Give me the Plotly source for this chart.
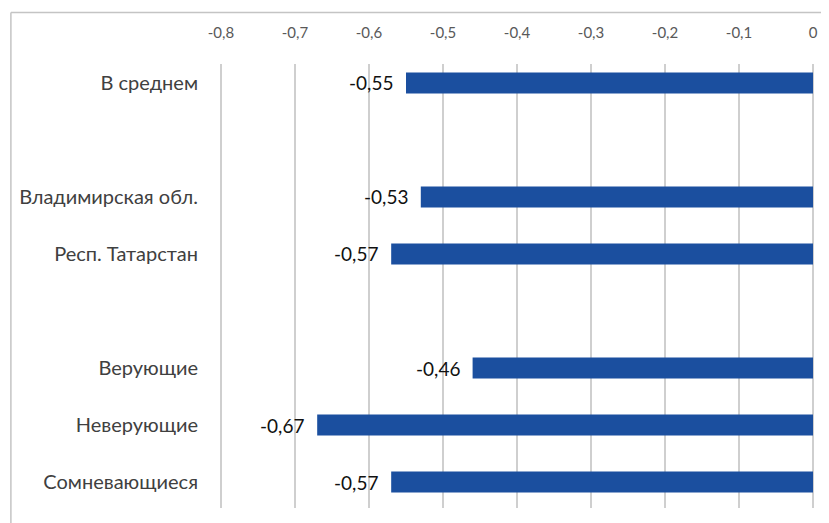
import plotly.graph_objects as go

categories = ["В среднем", "", "Владимирская обл.", "Респ. Татарстан", "",
              "Верующие", "Неверующие", "Сомневающиеся"]
values = [-0.55, None, -0.53, -0.57, None, -0.46, -0.67, -0.57]
tick_vals = [-0.8, -0.7, -0.6, -0.5, -0.4, -0.3, -0.2, -0.1, 0]
tick_labels = ["-0,8", "-0,7", "-0,6", "-0,5", "-0,4", "-0,3", "-0,2", "-0,1", "0"]

positions = list(range(len(categories)))
bar_color = "#1b4f9f"
FONT = "Lato"

# page has an 8px body margin; figure coordinates = page coordinates - 8
OFF = 8
W, H = 829 - OFF, 523 - OFF
K = 745.0          # pixels per unit on x
PAD = 2            # px padding so edge gridlines are drawn
L, R, T, B = 220 - PAD - OFF, 11, 64 - OFF, 15
pw, ph = W - L - R, H - T - B
x_left = -0.8 - PAD / K
x_range = [x_left, x_left + pw / K]

fig = go.Figure()
fig.add_trace(go.Bar(
    x=values, y=positions, orientation="h",
    marker=dict(color=bar_color, line=dict(width=0)),
    width=0.37, hoverinfo="skip",
))

annotations = []
for v, p in zip(values, positions):
    if v is None:
        continue
    annotations.append(dict(
        x=v, y=p, xref="x", yref="y", text=f"{v:.2f}".replace(".", ","),
        showarrow=False, xanchor="right", yanchor="middle", xshift=-11,
        font=dict(family=FONT, size=19, color="#111111"),
    ))


def px_x(px):
    return (px - OFF - L) / pw


def px_y(py):
    return (H - B - (py - OFF)) / ph


frame_color = "#c4c4c4"
shapes = [
    dict(type="line", xref="paper", yref="paper",
         x0=px_x(8.5), x1=px_x(829), y0=px_y(12.5), y1=px_y(12.5),
         line=dict(color=frame_color, width=1.5)),
    dict(type="line", xref="paper", yref="paper",
         x0=px_x(8.5), x1=px_x(8.5), y0=px_y(12.5), y1=px_y(523),
         line=dict(color=frame_color, width=1.5)),
]

fig.update_layout(
    width=W, height=H,
    margin=dict(l=L, r=R, t=T, b=B),
    paper_bgcolor="white", plot_bgcolor="white",
    showlegend=False,
    annotations=annotations,
    shapes=shapes,
    font=dict(family=FONT),
    xaxis=dict(
        range=x_range, side="top",
        tickvals=tick_vals, ticktext=tick_labels,
        tickfont=dict(family=FONT, size=15, color="#595959"),
        showgrid=True, gridcolor="#cfcfcf", gridwidth=1.5,
        zeroline=False, showline=False, ticks="",
        ticklabelstandoff=22,
    ),
    yaxis=dict(
        range=[7.456, -0.333],
        tickvals=positions, ticktext=categories,
        tickfont=dict(family=FONT, size=20, color="#404040"),
        showgrid=False, zeroline=False, showline=False, ticks="",
        ticklabelstandoff=20,
    ),
)

fig.write_html("out.html")
